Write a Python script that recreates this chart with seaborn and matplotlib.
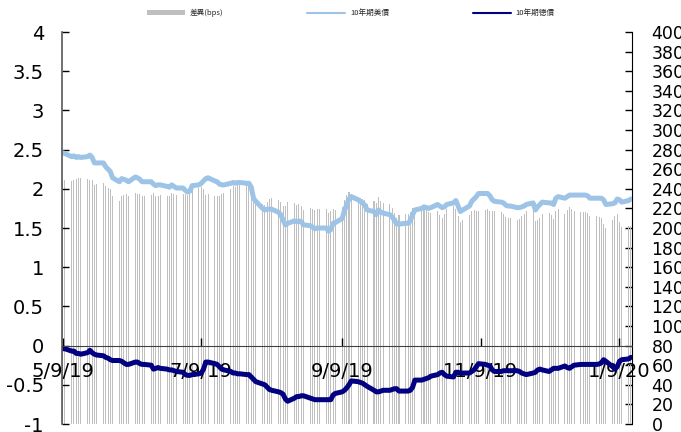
import numpy as np
import pandas as pd
import seaborn as sns
import matplotlib.pyplot as plt
from matplotlib.patches import Patch
from matplotlib.lines import Line2D
from matplotlib.ticker import FuncFormatter

sns.set_style('ticks')
plt.rcParams['font.family'] = ['DejaVu Sans', 'Noto Sans CJK TC']
plt.rcParams['axes.unicode_minus'] = False

# 10年期美債 (%), business days 2019-05-09 .. 2020-01-14, by month
us_may = [2.46, 2.45, 2.41, 2.42, 2.40, 2.41, 2.40, 2.41, 2.43, 2.40, 2.33, 2.33, 2.33, 2.28, 2.25, 2.22, 2.14]
us_jun = [2.09, 2.13, 2.12, 2.11, 2.09, 2.15, 2.14, 2.12, 2.09, 2.09, 2.09, 2.06, 2.04, 2.05, 2.05, 2.03, 2.02, 2.05, 2.03, 2.01]
us_jul = [2.01, 1.98, 1.96, 1.97, 2.04, 2.05, 2.07, 2.10, 2.13, 2.14, 2.10, 2.09, 2.06, 2.05, 2.05, 2.07, 2.08, 2.07, 2.08, 2.08, 2.07, 2.07, 2.02]
us_aug = [1.88, 1.84, 1.75, 1.73, 1.74, 1.74, 1.74, 1.70, 1.67, 1.60, 1.54, 1.56, 1.59, 1.58, 1.59, 1.58, 1.54, 1.53, 1.51, 1.49, 1.50, 1.50]
us_sep = [1.50, 1.46, 1.48, 1.56, 1.57, 1.62, 1.72, 1.80, 1.87, 1.90, 1.86, 1.84, 1.82, 1.79, 1.73, 1.71, 1.67, 1.73, 1.70, 1.69, 1.67]
us_oct = [1.64, 1.60, 1.55, 1.55, 1.56, 1.56, 1.59, 1.67, 1.73, 1.75, 1.77, 1.76, 1.75, 1.76, 1.80, 1.78, 1.76, 1.77, 1.80, 1.82, 1.85, 1.78, 1.71]
us_nov = [1.73, 1.78, 1.84, 1.87, 1.90, 1.94, 1.94, 1.94, 1.91, 1.86, 1.84, 1.83, 1.82, 1.79, 1.78, 1.78, 1.76, 1.76, 1.77, 1.78, 1.80]
us_dec = [1.82, 1.73, 1.77, 1.80, 1.83, 1.82, 1.82, 1.80, 1.88, 1.90, 1.88, 1.90, 1.92, 1.92, 1.92, 1.92, 1.92, 1.92, 1.91, 1.88, 1.88, 1.88]
us_jan = [1.88, 1.86, 1.80, 1.81, 1.82, 1.87, 1.86, 1.83, 1.85, 1.87]

# 10年期德債 (%)
de_may = [-0.04, -0.04, -0.07, -0.07, -0.10, -0.10, -0.11, -0.09, -0.06, -0.09, -0.11, -0.12, -0.13, -0.15, -0.16, -0.18, -0.19]
de_jun = [-0.19, -0.20, -0.22, -0.24, -0.24, -0.21, -0.21, -0.23, -0.24, -0.24, -0.25, -0.30, -0.29, -0.28, -0.29, -0.30, -0.31, -0.31, -0.32, -0.33]
de_jul = [-0.34, -0.37, -0.38, -0.38, -0.37, -0.36, -0.35, -0.30, -0.21, -0.21, -0.23, -0.24, -0.27, -0.30, -0.31, -0.33, -0.35, -0.35, -0.36, -0.36, -0.37, -0.37, -0.40]
de_aug = [-0.43, -0.46, -0.49, -0.50, -0.53, -0.56, -0.57, -0.59, -0.60, -0.62, -0.68, -0.71, -0.67, -0.65, -0.65, -0.64, -0.64, -0.67, -0.68, -0.69, -0.69, -0.69]
de_sep = [-0.69, -0.69, -0.69, -0.63, -0.61, -0.59, -0.57, -0.54, -0.50, -0.45, -0.46, -0.47, -0.48, -0.50, -0.52, -0.57, -0.59, -0.59, -0.58, -0.57, -0.57]
de_oct = [-0.56, -0.55, -0.55, -0.58, -0.58, -0.58, -0.57, -0.53, -0.44, -0.44, -0.43, -0.42, -0.41, -0.39, -0.37, -0.35, -0.34, -0.37, -0.39, -0.40, -0.34, -0.34, -0.35]
de_nov = [-0.35, -0.35, -0.33, -0.31, -0.27, -0.23, -0.24, -0.25, -0.26, -0.31, -0.33, -0.33, -0.32, -0.32, -0.32, -0.32, -0.32, -0.33, -0.35, -0.36, -0.37]
de_dec = [-0.35, -0.34, -0.31, -0.30, -0.31, -0.33, -0.31, -0.29, -0.29, -0.29, -0.26, -0.28, -0.29, -0.27, -0.25, -0.24, -0.24, -0.24, -0.24, -0.24, -0.24, -0.235]
de_jan = [-0.22, -0.18, -0.20, -0.27, -0.30, -0.27, -0.20, -0.18, -0.17, -0.15]

tick_dates = ['2019-05-09', '2019-07-09', '2019-09-09', '2019-11-09', '2020-01-09']
tick_labels = ['5/9/19', '7/9/19', '9/9/19', '11/9/19', '1/9/20']
legend_labels = ['差異(bps)', '10年期美債', '10年期德債']

us = us_may + us_jun + us_jul + us_aug + us_sep + us_oct + us_nov + us_dec + us_jan
de = de_may + de_jun + de_jul + de_aug + de_sep + de_oct + de_nov + de_dec + de_jan
df = pd.DataFrame({'date': pd.bdate_range('2019-05-09', '2020-01-14'), 'us': us, 'de': de})
# 差異 = 美債 - 德債, in bps
df['spread'] = (df['us'] - df['de']) * 100

c_bar = '#bfbfbf'
c_us = '#9dc3e6'
c_de = '#000080'

fig = plt.figure(figsize=(6.81, 4.32), dpi=100)
ax = fig.add_axes([62 / 681, 8 / 432, 570 / 681, 392 / 432])
ax2 = ax.twinx()
ax.set_zorder(ax2.get_zorder() + 1)
ax.patch.set_visible(False)

ax2.bar(df['date'], df['spread'], width=0.45, color=c_bar, linewidth=0)
sns.lineplot(data=df, x='date', y='us', ax=ax, color=c_us, lw=3.6)
sns.lineplot(data=df, x='date', y='de', ax=ax, color=c_de, lw=3.6)

ax.set_xlim(pd.Timestamp('2019-05-09') - pd.Timedelta(hours=6), pd.Timestamp('2020-01-14') + pd.Timedelta(hours=12))
ax.set_ylim(-1, 4)
ax.set_yticks(np.arange(-1, 4.01, 0.5))
ax.yaxis.set_major_formatter(FuncFormatter(lambda v, p: '%g' % v))
ax.set_xticks(pd.to_datetime(tick_dates))
ax.set_xticklabels(tick_labels)
ax.set_xlabel('')
ax.set_ylabel('')

ax2.set_ylim(0, 400)
ax2.set_yticks(range(0, 401, 20))
ax2.set_ylabel('')

for s in ['top', 'right']:
    ax.spines[s].set_visible(False)
ax.spines['bottom'].set_position(('data', 0))
ax.spines['bottom'].set_color('#404040')
ax.spines['left'].set_color('#595959')
ax.spines['left'].set_linewidth(1.2)
for s in ['top', 'left', 'bottom']:
    ax2.spines[s].set_visible(False)
ax2.spines['right'].set_color('black')

ax.tick_params(axis='y', direction='in', length=5, width=1, pad=13, labelsize=14, colors='black')
ax.tick_params(axis='x', direction='in', length=6, width=1, pad=12, labelsize=14, colors='black')
ax2.tick_params(axis='y', direction='in', length=5, width=1, pad=14, labelsize=12.5, colors='black')

handles = [Patch(facecolor=c_bar, edgecolor='none'),
           Line2D([], [], color=c_us, lw=1.5),
           Line2D([], [], color=c_de, lw=1.5)]
fig.legend(handles, legend_labels, loc='center', bbox_to_anchor=(0.515, 1 - 13 / 432), ncol=3,
           frameon=False, prop={'family': ['Noto Sans CJK TC'], 'size': 5.5},
           handlelength=5, handletextpad=0.6, columnspacing=11, handleheight=0.6)

fig.savefig('out.png', dpi=100)
